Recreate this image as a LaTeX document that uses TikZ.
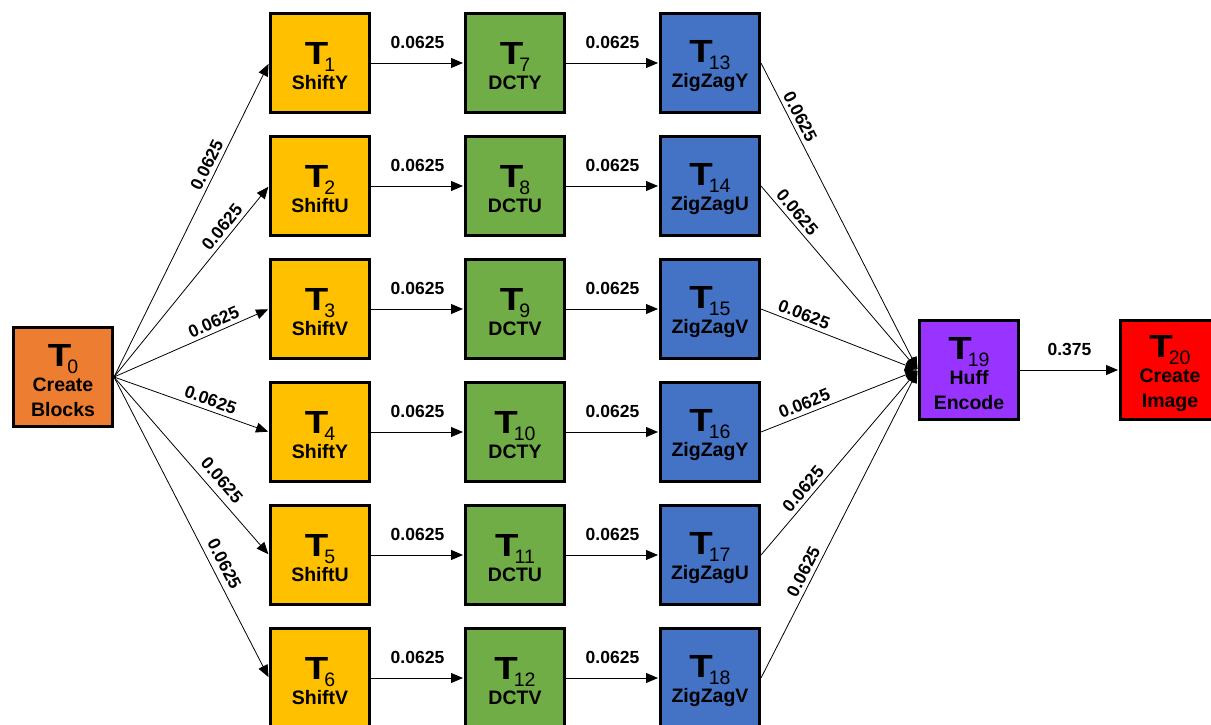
\documentclass[tikz,border=0pt]{standalone}
\usepackage{graphicx}
\usepackage{fontspec}
\setmainfont{Liberation Sans}
\usetikzlibrary{positioning,arrows.meta}

\definecolor{blockorange}{HTML}{ED7D31}
\definecolor{shiftyellow}{HTML}{FFC000}
\definecolor{dctgreen}{HTML}{70AD47}
\definecolor{zigblue}{HTML}{4472C4}
\definecolor{huffpurple}{HTML}{9933FF}
\definecolor{imagered}{HTML}{FF0000}

\newcommand{\tid}[1]{\rule{0pt}{29pt}{\fontsize{32}{32}\selectfont\bfseries\scalebox{1.2}[1]{T}}\kern-4pt\raisebox{-7pt}{\fontsize{19.5}{19.5}\selectfont\mdseries #1}}

\begin{document}
\begin{tikzpicture}[->,>={Triangle[length=12pt,width=10pt]},shorten >=1pt,
  x=1pt,y=1pt,on grid,node distance=123pt and 195pt,line width=0.8pt,
  task/.style={rectangle,draw,line width=3pt,minimum size=99pt,inner sep=0pt,
    align=center,font=\bfseries\fontsize{19.5}{25}\selectfont},
  wt/.style={font=\bfseries\fontsize{17.5}{18}\selectfont,sloped,above,inner sep=4pt}]

  \useasboundingbox (0,0) rectangle (1211,724);

  \node[task,fill=blockorange] (T0) at (63,347) {\tid{0}\\Create\\Blocks};

  \node[task,fill=shiftyellow] (T1) at (320,661) {\tid{1}\\ShiftY};
  \node[task,fill=shiftyellow] (T2) [below=of T1] {\tid{2}\\ShiftU};
  \node[task,fill=shiftyellow] (T3) [below=of T2] {\tid{3}\\ShiftV};
  \node[task,fill=shiftyellow] (T4) [below=of T3] {\tid{4}\\ShiftY};
  \node[task,fill=shiftyellow] (T5) [below=of T4] {\tid{5}\\ShiftU};
  \node[task,fill=shiftyellow] (T6) [below=of T5] {\tid{6}\\ShiftV};

  \node[task,fill=dctgreen] (T7) [right=of T1] {\tid{7}\\DCTY};
  \node[task,fill=dctgreen] (T8) [right=of T2] {\tid{8}\\DCTU};
  \node[task,fill=dctgreen] (T9) [right=of T3] {\tid{9}\\DCTV};
  \node[task,fill=dctgreen] (T10) [right=of T4] {\tid{10}\\DCTY};
  \node[task,fill=dctgreen] (T11) [right=of T5] {\tid{11}\\DCTU};
  \node[task,fill=dctgreen] (T12) [right=of T6] {\tid{12}\\DCTV};

  \node[task,fill=zigblue] (T13) [right=of T7] {\tid{13}\\ZigZagY};
  \node[task,fill=zigblue] (T14) [right=of T8] {\tid{14}\\ZigZagU};
  \node[task,fill=zigblue] (T15) [right=of T9] {\tid{15}\\ZigZagV};
  \node[task,fill=zigblue] (T16) [right=of T10] {\tid{16}\\ZigZagY};
  \node[task,fill=zigblue] (T17) [right=of T11] {\tid{17}\\ZigZagU};
  \node[task,fill=zigblue] (T18) [right=of T12] {\tid{18}\\ZigZagV};

  \node[task,fill=huffpurple] (T19) at (969,354) {\tid{19}\\Huff\\Encode};
  \node[task,fill=imagered] (T20) [right=201pt of T19] {\tid{20}\\Create\\Image};

  % fan out of T0
  \path[every node/.style={wt}]
    (T0.east) edge node[pos=0.66] {0.0625} (T1.west)
              edge node[pos=0.75] {0.0625} (T2.west)
              edge node[pos=0.67] {0.0625} (T3.west)
              edge node[pos=0.60] {0.0625} (T4.west)
              edge node[pos=0.63,inner sep=7pt] {0.0625} (T5.west)
              edge node[pos=0.64,inner sep=6pt] {0.0625} (T6.west);

  % rows
  \path[every node/.style={wt,above=10pt}]
    (T1) edge node {0.0625} (T7)
    (T2) edge node {0.0625} (T8)
    (T3) edge node {0.0625} (T9)
    (T4) edge node {0.0625} (T10)
    (T5) edge node {0.0625} (T11)
    (T6) edge node {0.0625} (T12)
    (T7) edge node {0.0625} (T13)
    (T8) edge node {0.0625} (T14)
    (T9) edge node {0.0625} (T15)
    (T10) edge node {0.0625} (T16)
    (T11) edge node {0.0625} (T17)
    (T12) edge node {0.0625} (T18)
    (T19) edge node {0.375} (T20);

  % fan into T19
  \path[every node/.style={wt}]
    (T13.east) edge node[pos=0.19] {0.0625} (T19.west)
    (T14.east) edge node[pos=0.18] {0.0625} (T19.west)
    (T15.east) edge node[pos=0.25] {0.0625} (T19.west)
    (T16.east) edge node[pos=0.30] {0.0625} (T19.west)
    (T17.east) edge node[pos=0.32] {0.0625} (T19.west)
    (T18.east) edge node[pos=0.33] {0.0625} (T19.west);
\end{tikzpicture}
\end{document}
